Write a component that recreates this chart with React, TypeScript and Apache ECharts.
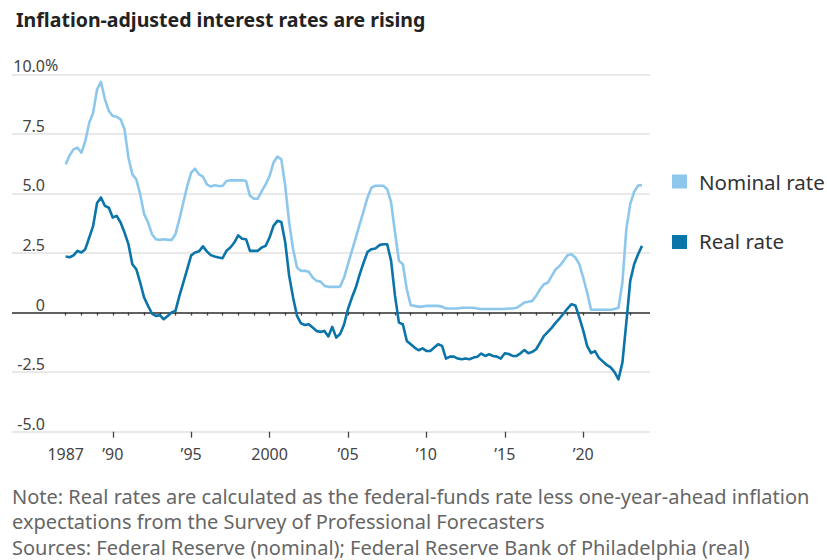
import React, { useEffect, useRef } from "react";
import * as echarts from "echarts";

const START_YEAR = 1987;
const PERIODS_PER_YEAR = 4;

// Quarterly values, 1987 Q1 through 2023 Q4 (percent)
const nominalRate = [
  6.22, 6.6, 6.85, 6.92,
  6.71, 7.2, 7.97, 8.39,
  9.37, 9.68, 8.95, 8.46,
  8.25, 8.22, 8.11, 7.69,
  6.5, 5.8, 5.59, 4.97,
  4.13, 3.78, 3.29, 3.08,
  3.05, 3.08, 3.05, 3.05,
  3.29, 3.92, 4.62, 5.31,
  5.87, 6.04, 5.8, 5.71,
  5.38, 5.29, 5.34, 5.31,
  5.31, 5.52, 5.55, 5.55,
  5.55, 5.55, 5.52, 4.9,
  4.78, 4.78, 5.1, 5.38,
  5.73, 6.29, 6.55, 6.43,
  5.31, 3.78, 2.66, 1.89,
  1.75, 1.75, 1.71, 1.47,
  1.33, 1.3, 1.12, 1.08,
  1.08, 1.08, 1.09, 1.47,
  2.03, 2.59, 3.15, 3.71,
  4.27, 4.83, 5.25, 5.32,
  5.32, 5.32, 5.18, 4.62,
  3.36, 2.17, 2.03, 0.98,
  0.31, 0.28, 0.25, 0.25,
  0.28, 0.28, 0.28, 0.28,
  0.25, 0.17, 0.17, 0.17,
  0.17, 0.2, 0.2, 0.2,
  0.2, 0.17, 0.15, 0.15,
  0.15, 0.15, 0.15, 0.15,
  0.15, 0.17, 0.17, 0.2,
  0.3, 0.42, 0.45, 0.49,
  0.7, 0.98, 1.19, 1.26,
  1.54, 1.82, 1.96, 2.17,
  2.41, 2.45, 2.31, 2.03,
  1.47, 0.84, 0.12, 0.12,
  0.12, 0.12, 0.12, 0.12,
  0.15, 0.2, 1.26, 3.5,
  4.55, 5.07, 5.33, 5.35,
];

const realRate = [
  2.35, 2.32, 2.4, 2.59,
  2.52, 2.66, 3.15, 3.64,
  4.6, 4.83, 4.48, 4.4,
  3.99, 4.06, 3.78, 3.36,
  2.87, 2.03, 1.82, 1.26,
  0.63, 0.28, -0.04, -0.14,
  -0.11, -0.28, -0.14, 0,
  0.07, 0.7, 1.26, 1.82,
  2.4, 2.52, 2.57, 2.78,
  2.57, 2.41, 2.35, 2.31,
  2.28, 2.59, 2.73, 2.94,
  3.24, 3.1, 3.08, 2.59,
  2.59, 2.59, 2.73, 2.8,
  3.15, 3.64, 3.85, 3.8,
  2.94, 1.54, 0.63, -0.14,
  -0.45, -0.52, -0.49, -0.63,
  -0.77, -0.81, -0.77, -1.0,
  -0.6, -1.05, -0.9, -0.5,
  0.15, 0.63, 1.05, 1.61,
  2.1, 2.55, 2.66, 2.69,
  2.83, 2.87, 2.87, 2.17,
  0.7, -0.42, -0.49, -1.19,
  -1.33, -1.47, -1.58, -1.5,
  -1.61, -1.61, -1.47, -1.33,
  -1.4, -1.93, -1.85, -1.85,
  -1.93, -1.96, -1.93, -1.96,
  -1.89, -1.85, -1.72, -1.82,
  -1.75, -1.82, -1.85, -1.93,
  -1.71, -1.74, -1.82, -1.82,
  -1.71, -1.57, -1.71, -1.65,
  -1.54, -1.26, -0.98, -0.81,
  -0.63, -0.42, -0.24, -0.04,
  0.17, 0.35, 0.3, -0.2,
  -0.75, -1.4, -1.7, -1.62,
  -1.9, -2.05, -2.2, -2.3,
  -2.5, -2.8, -2.1, -0.42,
  1.33, 2.03, 2.45, 2.8,
];

const yTickValues = [-5, -2.5, 0, 2.5, 5, 7.5, 10];
const xLabelYears = [1987, 1990, 1995, 2000, 2005, 2010, 2015, 2020];
const xMajorTickYears = [1990, 1995, 2000, 2005, 2010, 2015, 2020];
const xMinorTickYears = [
  1987, 1988, 1989, 1990, 1991, 1992, 1993, 1994, 1995, 1996, 1997, 1998,
  1999, 2000, 2001, 2002, 2003, 2004, 2005, 2006, 2007, 2008, 2009, 2010,
  2011, 2012, 2013, 2014, 2015, 2016, 2017, 2018, 2019, 2020, 2021, 2022, 2023,
];

const seriesNames = ["Nominal rate", "Real rate"];
const seriesColors = ["#8dc8ec", "#0b74a8"];

const titleText = "Inflation-adjusted interest rates are rising";
const noteLines = [
  "Note: Real rates are calculated as the federal-funds rate less one-year-ahead inflation",
  "expectations from the Survey of Professional Forecasters",
  "Sources: Federal Reserve (nominal); Federal Reserve Bank of Philadelphia (real)",
];

const FONT = "'Noto Sans', sans-serif";

function toPairs(values: number[]) {
  return values.map((v, i) => [START_YEAR + i / PERIODS_PER_YEAR, v]);
}

function yearLabel(v: number) {
  const y = Math.round(v);
  if (y === 1987 || y === 2000) return String(y);
  return "\u2019" + String(y).slice(2);
}

export default function App() {
  const ref = useRef<HTMLDivElement>(null);

  useEffect(() => {
    if (!ref.current) return;
    const chart = echarts.init(ref.current, undefined, { renderer: "svg" });

    const gridLeft = 12;
    const gridRight = 650;
    const gridTop = 74.3;
    const gridBottom = 431.7;
    const xMin = 1983.575;
    const xMax = 2024.26;

    const baseX = {
      type: "value" as const,
      min: xMin,
      max: xMax,
      gridIndex: 0,
      splitLine: { show: false },
      axisLine: { show: false },
    };

    const option: any = {
      animation: false,
      textStyle: { fontFamily: FONT },
      title: {
        text: titleText,
        left: 11,
        top: 4,
        textStyle: { fontSize: 19.5, fontWeight: "bold", color: "#222", fontFamily: FONT },
      },
      grid: {
        left: gridLeft,
        right: 827 - gridRight,
        top: gridTop,
        bottom: 560 - gridBottom,
        containLabel: false,
      },
      xAxis: [
        {
          ...baseX,
          axisTick: {
            show: true,
            length: 3,
            customValues: xMinorTickYears,
            lineStyle: { color: "#444", width: 1.3 },
          },
          axisLabel: {
            show: true,
            customValues: xLabelYears,
            formatter: (v: number) => yearLabel(v),
            margin: 14,
            fontSize: 16,
            color: "#444",
            fontFamily: FONT,
          },
        },
        {
          ...baseX,
          position: "bottom",
          axisTick: {
            show: true,
            length: 6,
            customValues: xMajorTickYears,
            lineStyle: { color: "#444", width: 1.3 },
          },
          axisLabel: { show: false },
        },
      ],
      yAxis: {
        type: "value",
        min: -5,
        max: 10,
        interval: 2.5,
        axisLine: { show: false },
        axisTick: { show: false },
        splitLine: { show: true, lineStyle: { color: "#e2e2e2", width: 1.5 } },
        axisLabel: {
          inside: true,
          margin: 33,
          align: "right",
          verticalAlign: "bottom",
          fontSize: 16,
          lineHeight: 16,
          color: "#444",
          fontFamily: FONT,
          formatter: (v: number) => {
            if (!yTickValues.includes(v)) return "";
            if (v === 0) return "0";
            return v.toFixed(1);
          },
        },
      },
      series: [
        {
          name: seriesNames[0],
          type: "line",
          xAxisIndex: 0,
          data: toPairs(nominalRate),
          showSymbol: false,
          symbol: "none",
          lineStyle: { color: seriesColors[0], width: 2.6, join: "round" },
          z: 3,
          markLine: {
            silent: true,
            symbol: ["none", "none"],
            label: { show: false },
            lineStyle: { color: "#333", width: 1.5, type: "solid" },
            data: [{ yAxis: 0 }],
            z: 2,
          },
        },
        {
          name: seriesNames[1],
          type: "line",
          xAxisIndex: 0,
          data: toPairs(realRate),
          showSymbol: false,
          symbol: "none",
          lineStyle: { color: seriesColors[1], width: 2.6, join: "round" },
          z: 4,
        },
      ],
      graphic: [
        {
          type: "text",
          left: 45,
          top: 57,
          style: { text: "%", fontSize: 16, fill: "#444", fontFamily: FONT },
        },
        { type: "rect", shape: { x: 672, y: 174.5, width: 15, height: 14 }, style: { fill: seriesColors[0] } },
        {
          type: "text",
          x: 699,
          y: 181.5,
          style: { text: seriesNames[0], fontSize: 20.5, fill: "#333", fontFamily: FONT, verticalAlign: "middle" },
        },
        { type: "rect", shape: { x: 672, y: 235, width: 15, height: 14 }, style: { fill: seriesColors[1] } },
        {
          type: "text",
          x: 699,
          y: 241,
          style: { text: seriesNames[1], fontSize: 20.5, fill: "#333", fontFamily: FONT, verticalAlign: "middle" },
        },
        ...noteLines.map((t, i) => ({
          type: "text",
          x: 12,
          y: 496 + i * 25.5,
          style: { text: t, fontSize: 20, fill: "#666", fontFamily: FONT, verticalAlign: "middle" },
        })),
      ],
    };

    chart.setOption(option);
    return () => chart.dispose();
  }, []);

  return (
    <div
      ref={ref}
      style={{ position: "fixed", left: 0, top: 0, width: 827, height: 560, background: "#fff" }}
    />
  );
}
